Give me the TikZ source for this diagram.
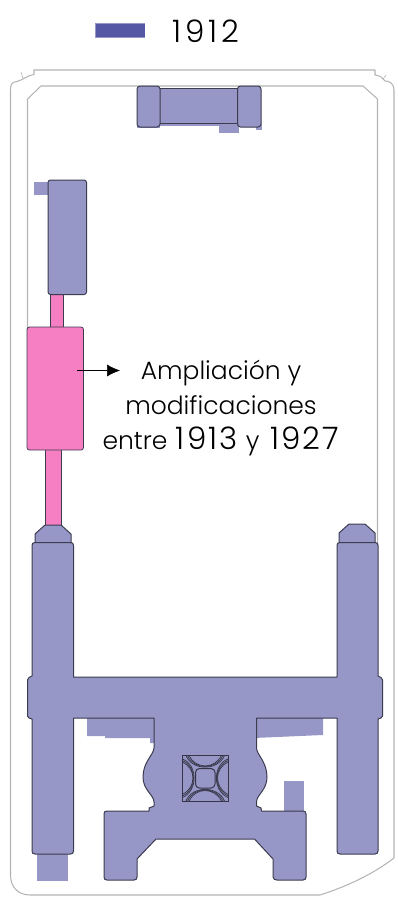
\documentclass[tikz,border=0pt]{standalone}
\usepackage{fontspec}
\setmainfont{Poppins Light}
\newfontface\digitface[LetterSpace=13]{Poppins Light}
\newfontface\digitfacet[LetterSpace=7]{Poppins Light}
\newcommand{\yr}[1]{{\fontsize{31}{35}\digitface #1}}
\newcommand{\yrt}[1]{{\fontsize{31}{35}\digitfacet #1}}
\usetikzlibrary{arrows.meta}
\definecolor{oldb}{HTML}{9797C7}
\definecolor{legb}{HTML}{5558A5}
\definecolor{pinkb}{HTML}{F67EC2}
\definecolor{edgeb}{HTML}{3C3C50}
\definecolor{wallc}{HTML}{B4B4B4}
\tikzset{
  wall/.style={draw=wallc,line width=1.05pt,line join=round},
  block/.style={fill=oldb,draw=edgeb,line width=1pt,line join=round},
  patch/.style={fill=oldb,draw=none},
  newblock/.style={fill=pinkb,draw=edgeb,line width=0.8pt,line join=round},
  ribs/.style={draw=edgeb!90!black,line width=0.7pt},
  lab/.style={font=\fontsize{25}{35}\selectfont,align=center,text=black,inner sep=0pt}
}
\begin{document}
\begin{tikzpicture}[x=1pt,y=-1pt]
\useasboundingbox (0,0) rectangle (398,899);
% legend
\fill[oldb] (95,23) rectangle (145,38);
\fill[legb] (95.5,24) rectangle (145,37.5);
\node[lab,anchor=center] (year) at (206,31) {\yr{1912}};
% walls
\draw[wall] (34,70) -- (375,70) -- (375,75) .. controls (381,76) and (383,78) .. (385,81)
  .. controls (390,81) and (394,84) .. (394,90) -- (394,858)
  .. controls (372,875) and (345,887) .. (320,895) -- (30,895)
  .. controls (18,895) and (10.5,887) .. (10.5,875) -- (10.5,90)
  .. controls (10.5,84) and (12,82) .. (17,81.5)
  .. controls (23,80) and (28,75) .. (34,74.5) -- cycle;
\draw[wall,line width=0.6pt] (23,78.5) -- (21,72);
\draw[wall,line width=0.6pt] (383,79) -- (386,75);
\draw[wall] (27.5,330) -- (27.5,99) -- (41,86) -- (363,86) -- (377.5,99) -- (377.5,545);
% light patches
\fill[patch] (219,124) rectangle (239,133);
\fill[patch] (137,124) rectangle (262,125.5);
\fill[patch] (137,124) rectangle (160,128);
\fill[patch] (256,124) rectangle (262,129.5);
\fill[patch] (34,182) rectangle (50,195);
\fill[patch] (87,716) -- (87,736) -- (105,736) -- (105,738) -- (150,738) -- (150,743) -- (156,743) -- (156,716) -- cycle;
\fill[patch] (254,716) -- (254,738) -- (323,735) -- (323,716) -- cycle;
\fill[patch] (284,781) rectangle (304,813);
\fill[patch] (37,852) rectangle (68,881);
% top pavilion
\draw[block] (159,88) rectangle (239,123.5);
\draw[block,rounded corners=3pt] (137,86) rectangle (160,127);
\draw[block,rounded corners=3pt] (237.5,86) rectangle (261,127);
% pink
\draw[newblock] (50.5,290) rectangle (63.5,330);
\draw[block,rounded corners=2.5pt] (48,180) rectangle (86.5,294.5);
\draw[newblock] (45,448) rectangle (61,527);
\draw[newblock,rounded corners=2.5pt] (27,327) rectangle (83.5,450);
% tower caps
\draw[block] (35,544) -- (35,534) -- (45,525) -- (61,525) -- (71,534) -- (71,544) -- cycle;
\draw[block] (339,544) -- (339,533) -- (349,524) -- (365,524) -- (375,533) -- (375,544) -- cycle;
% main plan
\draw[block] (35,542.5) -- (70.5,542.5) .. controls (72.5,542.5) and (73.5,543.5) .. (73.5,545.5)
  -- (73.5,677) -- (337,677) -- (337,545.5)
  .. controls (337,543.5) and (338,542.5) .. (340,542.5)
  -- (375,542.5) .. controls (377,542.5) and (378,543.5) .. (378,545.5)
  -- (378,676) -- (381,677.5) -- (382.5,680) -- (382.5,716) -- (381,718) -- (378,719)
  -- (378,851) .. controls (378,853) and (377,854) .. (375,854)
  -- (340,854) .. controls (338,854) and (337,853) .. (337,851)
  -- (337,718) -- (256.5,718) -- (256.5,748)
  .. controls (257,755) and (267,762) .. (267,777)
  .. controls (267,790) and (256.5,795) .. (256.5,802)
  -- (256.5,806) -- (261,808) -- (261.5,811) -- (303,811)
  .. controls (305,811) and (306,812) .. (306,814)
  -- (306,877) .. controls (306,879) and (305,880) .. (303,880)
  -- (277,880) .. controls (275,880) and (273,879) .. (273,877)
  -- (273,859) -- (254.5,839) -- (156,839) -- (137,859)
  -- (137,877) .. controls (137,879) and (136,880) .. (134,880)
  -- (107,880) .. controls (105,880) and (104,879) .. (104,877)
  -- (104,814) .. controls (104,812) and (105,811) .. (107,811)
  -- (149,811) -- (149,808) -- (154,806) -- (154,802)
  .. controls (154,795) and (143,790) .. (143,777)
  .. controls (143,762) and (153.5,755) .. (154,748)
  -- (154,718) -- (73.5,718) -- (73.5,851)
  .. controls (73.5,853) and (72.5,854) .. (70.5,854)
  -- (35,854) .. controls (33,854) and (32,853) .. (32,851)
  -- (32,719) -- (29,718) -- (27.5,716) -- (27.5,680) -- (29,677.5) -- (32,676)
  -- (32,545.5) .. controls (32,543.5) and (33,542.5) .. (35,542.5) -- cycle;
% central vault
\draw[ribs,line width=0.9pt] (182.5,755.5) rectangle (228,801);
\draw[ribs,line width=1pt,rounded corners=4pt] (195.5,768.5) rectangle (215,788);
\foreach \s in {0,1.6,3.2}{
  \draw[ribs] (186+\s,755.5) .. controls (192+\s,771-\s/2) and (218-\s,771-\s/2) .. (224.5-\s,755.5);
  \draw[ribs] (186+\s,801) .. controls (192+\s,785.5+\s/2) and (218-\s,785.5+\s/2) .. (224.5-\s,801);
  \draw[ribs] (182.5,759+\s) .. controls (198-\s/2,765+\s) and (198-\s/2,791-\s) .. (182.5,797.5-\s);
  \draw[ribs] (228,759+\s) .. controls (212.5+\s/2,765+\s) and (212.5+\s/2,791-\s) .. (228,797.5-\s);
}
% label
\node[lab,anchor=north] (note) at (221,359.5) {Ampliación y\\modificaciones\\entre\hspace{1.5pt} \yrt{1913}\hspace{1pt} y\hspace{4pt} \yrt{1927}};
\coordinate (arrowstart) at (77,370.5);
\coordinate (arrowend) at (120,370.5);
\draw[-{Latex[length=13pt,width=12pt]},line width=0.6pt,black] (arrowstart) -- (arrowend);
\end{tikzpicture}
\end{document}
